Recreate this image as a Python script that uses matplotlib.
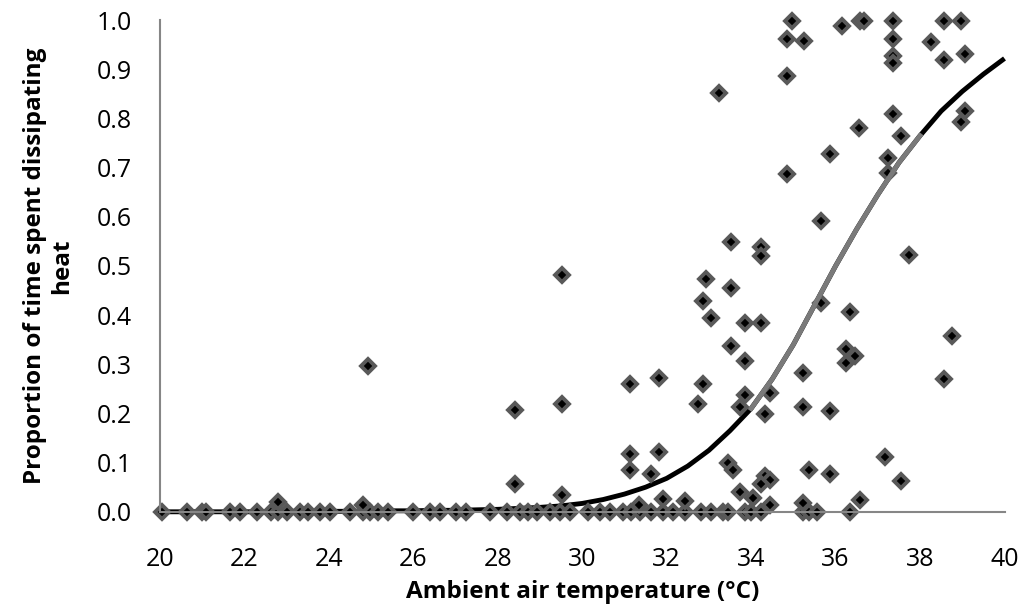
import numpy as np
import matplotlib.pyplot as plt

plt.rcParams['font.family'] = ['Open Sans', 'DejaVu Sans']

# observed points (y = 0 row first)
zero_x = [20.04, 20.63, 20.99, 21.1, 21.66, 21.89, 22.29, 22.64, 22.8, 23.0, 23.31, 23.51,
          23.79, 24.02, 24.5, 24.81, 24.97, 25.17, 25.4, 26.0, 26.39, 26.63, 27.02, 27.26,
          27.81, 28.21, 28.52, 28.72, 28.92, 29.23, 29.47, 29.72, 30.14, 30.41, 30.65, 30.97,
          31.16, 31.36, 31.64, 31.91, 32.15, 32.43, 32.81, 33.04, 33.33, 33.45, 33.85, 34.0,
          34.24, 35.24, 35.36, 35.56, 36.34]

pts_x = [22.8, 24.81, 31.35, 24.92, 28.42, 28.42, 29.51, 29.53, 29.53,
         31.14, 31.83, 31.14, 31.14, 31.83, 31.64, 31.91, 32.43,
         32.85, 32.94, 33.04, 33.53, 33.53, 33.85, 34.24, 34.24, 34.24, 33.24,
         33.53, 33.85, 32.85, 32.74, 33.85, 34.45, 33.73, 34.34,
         33.45, 33.57, 34.34, 34.45, 34.24, 33.73, 34.04, 34.45,
         35.24, 35.24, 35.86, 35.36, 35.86, 35.24, 35.66, 35.66, 35.86,
         36.34, 36.25, 36.46, 36.25, 36.57, 36.55,
         37.16, 37.55, 37.75, 37.25, 37.25, 37.37, 37.55,
         38.76, 38.56, 38.97, 39.07,
         34.97, 34.85, 35.25, 34.85, 34.85,
         36.15, 36.57, 36.67,
         37.37, 37.37, 37.37, 37.37,
         38.26, 38.56, 38.97, 38.56, 39.07]
pts_y = [0.019, 0.013, 0.014, 0.297, 0.207, 0.056, 0.482, 0.220, 0.035,
         0.260, 0.272, 0.118, 0.085, 0.121, 0.077, 0.026, 0.021,
         0.429, 0.473, 0.394, 0.456, 0.548, 0.383, 0.385, 0.538, 0.521, 0.852,
         0.337, 0.306, 0.260, 0.219, 0.238, 0.241, 0.213, 0.199,
         0.100, 0.085, 0.073, 0.064, 0.056, 0.041, 0.028, 0.014,
         0.283, 0.213, 0.205, 0.084, 0.077, 0.018, 0.425, 0.591, 0.727,
         0.406, 0.331, 0.317, 0.302, 0.024, 0.781,
         0.111, 0.063, 0.522, 0.720, 0.690, 0.810, 0.764,
         0.358, 0.270, 0.792, 0.815,
         0.998, 0.961, 0.957, 0.886, 0.688,
         0.988, 0.998, 0.998,
         0.998, 0.961, 0.927, 0.912,
         0.956, 0.998, 0.998, 0.919, 0.931]

# fitted curve
curve_x = [20, 20.5, 21, 21.5, 22, 22.5, 23, 23.5, 24, 24.5, 25, 25.5, 26, 26.5, 27, 27.5,
           28, 28.5, 29, 29.5, 30, 30.5, 31, 31.5, 32, 32.5, 33, 33.5, 34, 34.5, 35, 35.5,
           36, 36.5, 37, 37.5, 38, 38.5, 39, 39.5, 40]
curve_y = [0.000, 0.000, 0.000, 0.000, 0.000, 0.000, 0.001, 0.001, 0.001, 0.001, 0.001,
           0.002, 0.002, 0.003, 0.003, 0.004, 0.005, 0.007, 0.009, 0.012, 0.017, 0.025,
           0.036, 0.050, 0.068, 0.093, 0.125, 0.165, 0.21, 0.27, 0.34, 0.42, 0.50, 0.575,
           0.645, 0.71, 0.765, 0.815, 0.855, 0.89, 0.922]

all_x = zero_x + pts_x
all_y = [0.0] * len(zero_x) + pts_y

fig = plt.figure(figsize=(10.25, 6.1), dpi=100)
ax = fig.add_axes([0.156, 0.161, 0.824, 0.806])

ax.plot(curve_x, curve_y, color='black', lw=3.5, zorder=1, solid_capstyle='butt')
ax.plot(all_x, all_y, linestyle='none', marker='D', ms=7, mfc='black', mec='#595959',
        mew=2.8, zorder=2)
i0, i1 = curve_x.index(34), curve_x.index(38)
ax.plot(curve_x[i0:i1 + 1], curve_y[i0:i1 + 1], color='#7a7a7a', lw=3.5, zorder=3)

ax.set_xlim(20, 40)
ax.set_ylim(0, 1.0)
ax.set_xticks(np.arange(20, 41, 2))
ax.set_yticks(np.arange(0, 1.01, 0.1))
ax.set_yticklabels(['%.1f' % v for v in np.arange(0, 1.01, 0.1)])
ax.tick_params(length=0, labelsize=18)
ax.tick_params(axis='x', pad=25)
ax.tick_params(axis='y', pad=20)

for s in ['top', 'right']:
    ax.spines[s].set_visible(False)
for s in ['left', 'bottom']:
    ax.spines[s].set_color('#868686')
    ax.spines[s].set_linewidth(1.5)

ax.set_xlabel('Ambient air temperature (°C)', fontsize=17.5, fontweight='bold', labelpad=6)
ax.set_ylabel('Proportion of time spent dissipating\nheat', fontsize=17.5,
              fontweight='bold', linespacing=1.15)
ax.yaxis.set_label_coords(-0.102, 0.5)
for ln in ax.lines:
    ln.set_clip_on(False)

fig.savefig('out.png', dpi=100)
